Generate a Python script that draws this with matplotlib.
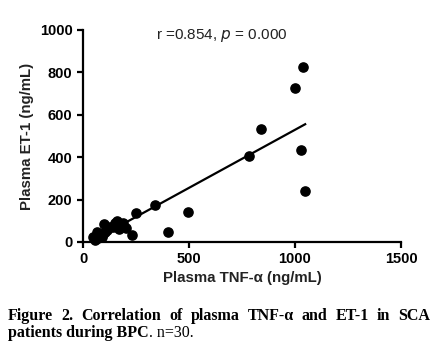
import numpy as np
import matplotlib.pyplot as plt

tnf = [1039, 1000, 839, 784, 1028, 1048, 497, 401, 338, 250,
       231, 203, 190, 159, 143, 151, 99, 104, 80, 64,
       49, 72, 57, 88, 112, 127, 174, 60, 95, 170]
et1 = [824, 728, 534, 406, 434, 239, 140, 46, 173, 135,
       35, 68, 91, 99, 72, 88, 85, 49, 33, 46,
       22, 17, 9, 22, 57, 69, 80, 30, 40, 62]

x = np.array(tnf)
y = np.array(et1)
slope, intercept = np.polyfit(x, y, 1)
xfit = np.array([x.min(), x.max()])

fig = plt.figure(figsize=(4.38, 3.46), dpi=100)
ax = fig.add_axes([0.1895, 0.3006, 0.726, 0.6127])

ax.scatter(x, y, s=44, color='black', zorder=3, clip_on=False)
ax.plot(xfit, slope * xfit + intercept, color='black', linewidth=1.6)

ax.set_xlim(0, 1500)
ax.set_ylim(0, 1000)
ax.set_xticks([0, 500, 1000, 1500])
ax.set_yticks([0, 200, 400, 600, 800, 1000])
for s in ['top', 'right']:
    ax.spines[s].set_visible(False)
for s in ['left', 'bottom']:
    ax.spines[s].set_linewidth(1.6)
ax.tick_params(width=1.6, length=4, direction='out')
for lab in ax.get_xticklabels() + ax.get_yticklabels():
    lab.set_fontfamily('Liberation Sans')
    lab.set_fontweight('bold')
    lab.set_fontsize(10.5)

ax.set_xlabel("Plasma TNF-α (ng/mL)", family='Liberation Sans', fontweight='bold',
              fontsize=10.8, color='#222222', labelpad=3)
ax.set_ylabel("Plasma ET-1 (ng/mL)", family='Liberation Sans', fontweight='bold',
              fontsize=10.8, color='#222222', labelpad=4)

ax.text(656, 976, "r =0.854, $\\it{p}$ = 0.000", ha='center', va='center',
        family='Liberation Sans', fontsize=11, color='#222222')

# caption, first line justified
words = ["Figure", "2.", "Correlation", "of", "plasma", "TNF-α", "and", "ET-1", "in", "SCA"]
fig.canvas.draw()
r = fig.canvas.get_renderer()
texts = [fig.text(0, 1 - 320 / 346, w, family='Liberation Serif', fontweight='bold',
                  fontsize=11.5) for w in words]
widths = [t.get_window_extent(r).width for t in texts]
left, right = 8, 430
gap = (right - left - sum(widths)) / (len(words) - 1)
pos = left
for t, w in zip(texts, widths):
    t.set_x(pos / 438)
    pos += w + gap

t2 = fig.text(8 / 438, 1 - 337 / 346, "patients during BPC", family='Liberation Serif',
              fontweight='bold', fontsize=11.5)
w2 = t2.get_window_extent(r).width
fig.text((8 + w2) / 438, 1 - 337 / 346, ". n=30.", family='Liberation Serif', fontsize=11.5)

fig.savefig("out.png", dpi=100)
